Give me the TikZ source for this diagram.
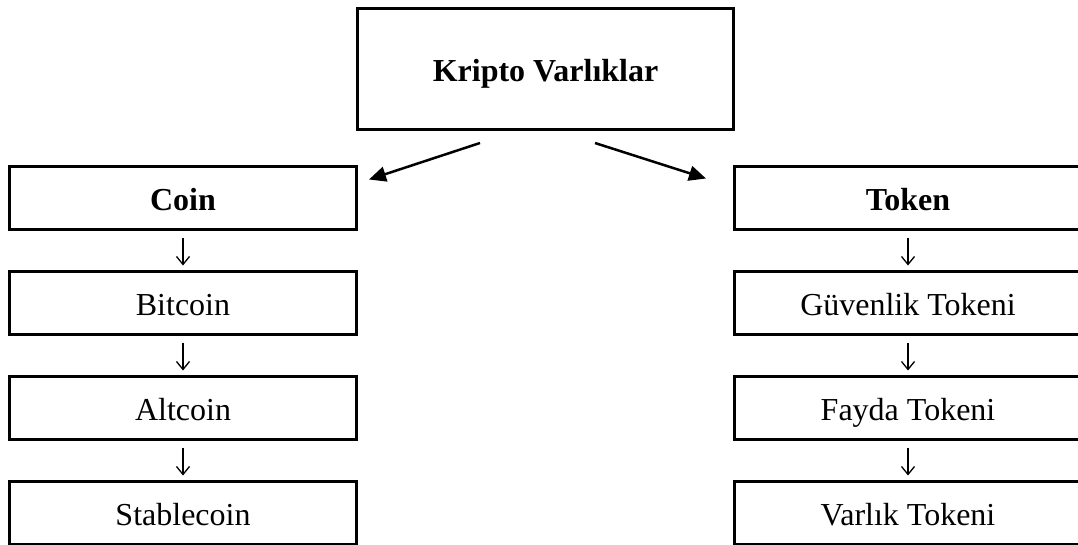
\documentclass[tikz,border=0pt]{standalone}
\usepackage{fontspec}
\setmainfont{Liberation Serif}
\usetikzlibrary{arrows.meta,positioning}

\begin{document}
\begin{tikzpicture}[x=1pt,y=-1pt,node distance=39pt,
	box/.style={draw,line width=3pt,minimum width=347pt,minimum height=63pt,inner sep=0pt,text height=25pt,text depth=0pt,font=\fontsize{32}{38}\selectfont},
	head/.style={box,font=\fontsize{32}{38}\selectfont\bfseries},
	down/.style={-{Straight Barb[length=8pt,width=13pt]},line width=1.3pt,shorten <=7pt,shorten >=4pt},
	branch/.style={-{Triangle[length=17pt,width=15pt]},line width=2.5pt}]

\useasboundingbox (0,0) rectangle (1078,544);

\node[head,minimum width=376pt,minimum height=121pt]   (kripto)  at (545.5,69)   {Kripto Varlıklar};

\node[head]   (coin)       at (183,197.5)         {Coin};
\node[box]    (bitcoin)    [below=of coin]        {Bitcoin};
\node[box]    (altcoin)    [below=of bitcoin]     {Altcoin};
\node[box]    (stablecoin) [below=of altcoin]     {Stablecoin};

\node[head]   (token)      [right=375pt of coin]  {Token};
\node[box]    (guvenlik)   [below=of token]       {Güvenlik Tokeni};
\node[box]    (fayda)      [below=of guvenlik]    {Fayda Tokeni};
\node[box]    (varlik)     [below=of fayda]       {Varlık Tokeni};

% ends of the two slanted arrows
\coordinate (kl) at ([shift={(-65.5,12)}]kripto.south);
\coordinate (kr) at ([shift={(49.5,12)}]kripto.south);
\coordinate (cl) at ([shift={(11,15)}]coin.north east);
\coordinate (tr) at ([shift={(-27,14)}]token.north west);

\draw[branch] (kl) -- (cl);
\draw[branch] (kr) -- (tr);

\path[down] (coin)  edge  (bitcoin)
  (bitcoin)  edge  (altcoin)
  (altcoin)  edge  (stablecoin)
  (token)  edge  (guvenlik)
  (guvenlik)  edge  (fayda)
  (fayda)  edge  (varlik);
\end{tikzpicture}
\end{document}
